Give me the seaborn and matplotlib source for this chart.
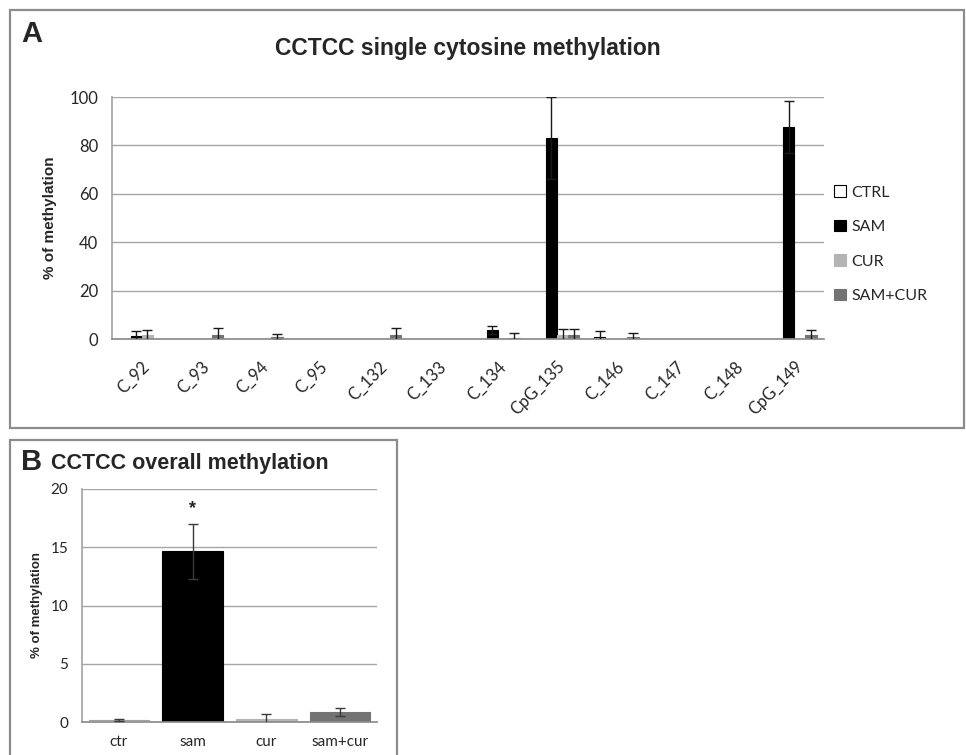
import numpy as np
import pandas as pd
import matplotlib
matplotlib.use("Agg")
import matplotlib.pyplot as plt
from matplotlib.patches import Rectangle, Patch
import seaborn as sns

# ---- Panel A data: single cytosine methylation (%) ----
positions = ["C_92", "C_93", "C_94", "C_95", "C_132", "C_133", "C_134",
             "CpG_135", "C_146", "C_147", "C_148", "CpG_149"]
groups = ["CTRL", "SAM", "CUR", "SAM+CUR"]
ctrl = [0, 0, 0, 0, 0, 0, 0, 0, 1.0, 0, 0, 0]
ctrl_err = [0, 0, 0, 0, 0, 0, 0, 0, 2.3, 0, 0, 0]
sam = [1.2, 0, 0, 0, 0, 0, 3.7, 83.0, 0, 0, 0, 87.5]
sam_err = [2.1, 0, 0, 0, 0, 0, 1.7, 17.0, 0, 0, 0, 10.7]
cur = [1.5, 0, 0, 0, 0, 0, 0, 1.5, 0, 0, 0, 0]
cur_err = [2.2, 0, 0, 0, 0, 0, 0, 2.5, 0, 0, 0, 0]
samcur = [0, 1.7, 0.8, 0, 1.7, 0, 0.5, 1.5, 0.8, 0, 0, 1.5]
samcur_err = [0, 2.8, 1.2, 0, 2.8, 0, 1.9, 2.5, 1.6, 0, 0, 2.3]

# ---- Panel B data: overall methylation (%) ----
treatments = ["ctr", "sam", "cur", "sam+cur"]
overall = [0.15, 14.65, 0.25, 0.85]
overall_err = [0.08, 2.35, 0.45, 0.35]

colors = {"CTRL": "#ffffff", "SAM": "#000000", "CUR": "#b4b4b4", "SAM+CUR": "#737373"}
edges = {"CTRL": "#000000", "SAM": "#000000", "CUR": "#b4b4b4", "SAM+CUR": "#737373"}

sns.set_theme(style="white")
plt.rcParams["font.family"] = ["Lato", "DejaVu Sans"]
narrow_bold = ["Liberation Sans Narrow", "Liberation Sans", "DejaVu Sans"]
arial = ["Liberation Sans", "DejaVu Sans"]

fig = plt.figure(figsize=(9.66, 7.55), dpi=100)
W, H = 966, 755


def fig_rect(x0, y0, x1, y1):
    """pixel box (top-left origin) -> figure fraction [l, b, w, h]"""
    return [x0 / W, 1 - y1 / H, (x1 - x0) / W, (y1 - y0) / H]


# panel frames
for (x0, y0, x1, y1) in [(10, 10, 964, 428), (10, 440, 397, 760)]:
    fig.add_artist(Rectangle((x0 / W, 1 - y1 / H), (x1 - x0) / W, (y1 - y0) / H,
                             transform=fig.transFigure, fill=False,
                             edgecolor="#8c8c8c", linewidth=1.6))

fig.text(21 / W, 1 - 34 / H, "A", fontsize=21, fontweight="bold",
         family=narrow_bold, va="center", ha="left")
fig.text(21 / W, 1 - 462 / H, "B", fontsize=21, fontweight="bold",
         family=narrow_bold, va="center", ha="left")


def style_axis(ax, n, tick_size, ypad):
    ax.set_xlim(-0.5, n - 0.5)
    ax.yaxis.grid(True, color="#a6a6a6", linewidth=1.0)
    ax.set_axisbelow(True)
    for s in ["top", "right"]:
        ax.spines[s].set_visible(False)
    ax.spines["left"].set_color("#a6a6a6")
    ax.spines["bottom"].set_color("#8c8c8c")
    ax.tick_params(axis="y", length=0, labelsize=tick_size, pad=ypad)
    ax.tick_params(axis="x", which="major", length=0, labelsize=tick_size)
    ax.set_xticks(np.arange(-0.5, n, 1.0), minor=True)
    ax.tick_params(axis="x", which="minor", length=6, color="#8c8c8c", width=1)


# ---- Panel A ----
axA = fig.add_axes(fig_rect(112, 97, 824, 339))
dfA = pd.DataFrame({
    "position": np.tile(positions, len(groups)),
    "group": np.repeat(groups, len(positions)),
    "value": ctrl + sam + cur + samcur,
})
sns.barplot(data=dfA, x="position", y="value", hue="group", hue_order=groups,
            palette=colors, width=0.75, errorbar=None, ax=axA, legend=False,
            saturation=1)
errsA = [ctrl_err, sam_err, cur_err, samcur_err]
valsA = [ctrl, sam, cur, samcur]
for g, cont, vals, errs in zip(groups, axA.containers, valsA, errsA):
    xs = []
    for bar, v in zip(cont, vals):
        bar.set_edgecolor(edges[g])
        bar.set_linewidth(0.8 if v > 0 else 0)
        xs.append(bar.get_x() + bar.get_width() / 2)
    xs = np.array(xs)
    v = np.array(vals)
    e = np.array(errs)
    m = e > 0
    axA.errorbar(xs[m], v[m], yerr=e[m], fmt="none", ecolor="#1a1a1a",
                 elinewidth=1.0, capsize=3.5, capthick=1.0, zorder=4)
axA.set_ylim(0, 100)
axA.set_yticks([0, 20, 40, 60, 80, 100])
style_axis(axA, len(positions), 12, 10)
axA.set_xlabel("")
axA.set_ylabel("% of methylation", fontsize=11, fontweight="bold",
               family=arial, labelpad=9)
axA.set_xticks(range(len(positions)))
axA.set_xticklabels(positions, rotation=45, ha="right", rotation_mode="anchor")
axA.tick_params(axis="x", which="major", pad=14)
axA.set_title("CCTCC single cytosine methylation", fontsize=16.5,
              fontweight="bold", family=narrow_bold, pad=30)

handles = [Patch(facecolor=colors[g], edgecolor=edges[g], linewidth=0.8)
           for g in groups]
fig.legend(handles, groups, loc="upper left",
           bbox_to_anchor=(820 / W, 1 - 171 / H), frameon=False,
           fontsize=11.5, labelspacing=1.25, handlelength=0.75,
           handleheight=0.75, handletextpad=0.3)

# ---- Panel B ----
axB = fig.add_axes(fig_rect(82, 489, 377, 722))
dfB = pd.DataFrame({"treatment": treatments, "value": overall})
palB = dict(zip(treatments, [colors[g] for g in groups]))
sns.barplot(data=dfB, x="treatment", y="value", hue="treatment",
            palette=palB, width=0.82, errorbar=None, ax=axB, legend=False,
            saturation=1)
edgeB = ["#a0a0a0", "#000000", "#b4b4b4", "#737373"]
xsB = []
for cont in axB.containers:
    for bar in cont:
        xsB.append(bar.get_x() + bar.get_width() / 2)
for cont, ec in zip(axB.containers, edgeB):
    for bar in cont:
        bar.set_edgecolor(ec)
        bar.set_linewidth(0.8)
axB.errorbar(xsB, overall, yerr=overall_err, fmt="none", ecolor="#3a3a3a",
             elinewidth=1.0, capsize=3.5, capthick=1.0, zorder=4)
sam_i = treatments.index("sam")
axB.text(xsB[sam_i], overall[sam_i] + overall_err[sam_i] + 0.6, "*",
         ha="center", va="bottom", fontsize=13, fontweight="bold",
         family=arial)
axB.set_ylim(0, 20)
axB.set_yticks([0, 5, 10, 15, 20])
style_axis(axB, len(treatments), 11, 10)
axB.set_xlabel("")
axB.set_ylabel("% of methylation", fontsize=9.5, fontweight="bold",
               family=arial, labelpad=5)
axB.tick_params(axis="x", which="major", pad=9)
fig.text(190 / W, 1 - 464 / H, "CCTCC overall methylation", fontsize=15.5,
         fontweight="bold", family=arial, ha="center", va="center")

fig.savefig("out.png", dpi=100)
